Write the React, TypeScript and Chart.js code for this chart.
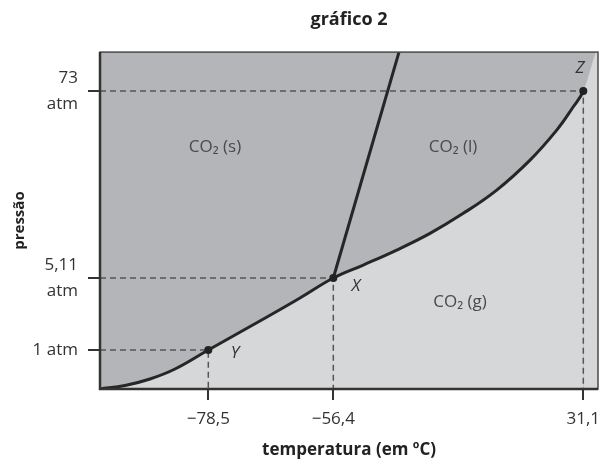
import { useEffect, useRef } from 'react';
import { Chart, registerables } from 'chart.js';

Chart.register(...registerables);

// ---- data (diagram units: 0..100 on both axes, schematic phase diagram) ----
const tempTickLabels = ['−78,5', '−56,4', '31,1'];
const tempTickPos = [21.75, 46.85, 97.05];
const pressureTickLabels = [['1 atm'], ['5,11', 'atm'], ['73', 'atm']];
const pressureTickPos = [11.57, 32.94, 88.43];

// sublimation curve (origin -> Y -> X) followed by vaporization curve (X -> Z)
const curveX = [0, 5.02, 10.04, 15.06, 21.75, 33.53, 40.16, 46.85, 52.87, 59.58, 66.27, 72.95, 79.66, 86.35, 91.71, 95.04, 97.05];
const curveY = [0, 1.04, 2.97, 5.93, 11.57, 21.36, 27.0, 32.94, 36.8, 41.25, 46.2, 52.14, 59.05, 67.95, 76.85, 83.77, 88.43];
// boundary of the gas region above the critical point (no line drawn)
const beyondX = [99.6, 100];
const beyondY = [100, 100];
// fusion line (X -> top)
const fusionX = [46.85, 60.04];
const fusionY = [32.94, 100];
// named points
const pointNames = ['Y', 'X', 'Z'];
const pointX = [21.75, 46.85, 97.05];
const pointY = [11.57, 32.94, 88.43];
// phase labels
const phaseLabels = ['CO₂ (s)', 'CO₂ (l)', 'CO₂ (g)'];

// ---- layout of annotations (diagram units) ----
const phaseLabelPos = [
  [23.1, 71.8],
  [70.9, 71.8],
  [72.3, 25.8],
];
const pointLabelPos = [
  [27.1, 10.7],
  [51.4, 30.6],
  [96.4, 95.3],
];

const DARK = '#b4b5b8';
const LIGHT = '#d6d7d9';
const LINE = '#262626';
const FONT = "'Open Sans', 'DejaVu Sans', sans-serif";

export default function App() {
  const ref = useRef<HTMLCanvasElement | null>(null);

  useEffect(() => {
    if (!ref.current) return;
    const zIndex = curveX.length - 1;
    const boundary = [
      ...curveX.map((x, i) => ({ x, y: curveY[i] })),
      ...beyondX.map((x, i) => ({ x, y: beyondY[i] })),
    ];

    const dashed = pointX.map((px, i) => ({
      type: 'line' as const,
      data: [
        { x: 0, y: pointY[i] },
        { x: px, y: pointY[i] },
        { x: px, y: 0 },
      ],
      borderColor: '#555',
      borderWidth: 1.5,
      borderDash: [6, 4],
      pointRadius: 0,
      fill: false,
      order: 2,
    }));

    const overlay = {
      id: 'overlay',
      beforeDraw(chart: any) {
        const { ctx, chartArea: a } = chart;
        ctx.save();
        ctx.fillStyle = DARK;
        ctx.fillRect(a.left, a.top, a.right - a.left, a.bottom - a.top);
        ctx.restore();
      },
      afterDatasetsDraw(chart: any) {
        const { ctx, chartArea: a, scales } = chart;
        const sx = scales.x;
        const sy = scales.y;
        ctx.save();
        ctx.strokeStyle = '#4a4a4a';
        ctx.lineWidth = 1.5;
        ctx.strokeRect(a.left, a.top, a.right - a.left, a.bottom - a.top);
        ctx.strokeStyle = '#333';
        ctx.lineWidth = 2.5;
        ctx.beginPath();
        ctx.moveTo(a.left, a.top);
        ctx.lineTo(a.left, a.bottom);
        ctx.lineTo(a.right, a.bottom);
        ctx.stroke();

        ctx.textAlign = 'center';
        ctx.textBaseline = 'middle';
        ctx.fillStyle = '#4a4a4a';
        ctx.font = `17px ${FONT}`;
        phaseLabels.forEach((t, i) => {
          ctx.fillText(t, sx.getPixelForValue(phaseLabelPos[i][0]), sy.getPixelForValue(phaseLabelPos[i][1]));
        });
        ctx.fillStyle = '#333';
        ctx.font = `italic 17px ${FONT}`;
        pointNames.forEach((t, i) => {
          ctx.fillText(t, sx.getPixelForValue(pointLabelPos[i][0]), sy.getPixelForValue(pointLabelPos[i][1]));
        });
        ctx.restore();
      },
    };

    const chart = new Chart(ref.current, {
      type: 'line',
      data: {
        datasets: [
          {
            data: pointX.map((x, i) => ({ x, y: pointY[i] })),
            showLine: false,
            pointRadius: 4,
            pointBackgroundColor: '#222',
            pointBorderWidth: 0,
            order: 0,
          },
          {
            data: fusionX.map((x, i) => ({ x, y: fusionY[i] })),
            borderColor: LINE,
            borderWidth: 3,
            pointRadius: 0,
            fill: false,
            order: 1,
          },
          {
            data: boundary,
            borderColor: LINE,
            borderWidth: 3,
            backgroundColor: LIGHT,
            pointRadius: 0,
            fill: 'origin',
            tension: 0.4,
            segment: {
              borderColor: (c: any) => (c.p0DataIndex >= zIndex ? 'rgba(0,0,0,0)' : LINE),
            },
            order: 3,
          },
          ...dashed,
        ] as any,
      },
      options: {
        animation: false,
        responsive: false,
        devicePixelRatio: 1,
        layout: { padding: { left: 0, right: 5, top: 0, bottom: 0 } },
        plugins: {
          legend: { display: false },
          tooltip: { enabled: false },
          title: {
            display: true,
            text: 'gráfico 2',
            fullSize: false,
            color: '#222',
            font: { family: FONT, size: 18, weight: 'bold', lineHeight: 1.2 },
            padding: { top: 9, bottom: 21.5 },
          },
        },
        scales: {
          x: {
            type: 'linear',
            min: 0,
            max: 100,
            afterBuildTicks: (s: any) => {
              s.ticks = tempTickPos.map((v) => ({ value: v }));
            },
            afterFit: (s: any) => {
              s.height = 73;
              s.paddingLeft = 0;
              s.paddingRight = 0;
            },
            ticks: {
              autoSkip: false,
              maxRotation: 0,
              padding: 9,
              color: '#333',
              font: { family: FONT, size: 17 },
              callback: (_v: any, i: number) => tempTickLabels[i],
            },
            grid: { drawOnChartArea: false, drawTicks: true, tickLength: 11, color: '#333', lineWidth: 2 },
            border: { display: false },
            title: {
              display: true,
              text: 'temperatura (em ºC)',
              color: '#222',
              font: { family: FONT, size: 17, weight: 'bold', lineHeight: 1.2 },
              padding: { top: 2, bottom: 2 },
            },
          },
          y: {
            type: 'linear',
            min: 0,
            max: 100,
            afterBuildTicks: (s: any) => {
              s.ticks = pressureTickPos.map((v) => ({ value: v }));
            },
            afterFit: (s: any) => {
              s.width = 100;
              s.paddingTop = 0;
              s.paddingBottom = 0;
            },
            ticks: {
              autoSkip: false,
              padding: 10,
              color: '#333',
              font: { family: FONT, size: 17, lineHeight: 1.55 },
              callback: (_v: any, i: number) => pressureTickLabels[i],
            },
            grid: { drawOnChartArea: false, drawTicks: true, tickLength: 12, color: '#333', lineWidth: 2 },
            border: { display: false },
            title: {
              display: true,
              text: 'pressão',
              color: '#222',
              font: { family: FONT, size: 15, weight: 'bold', lineHeight: 1.2 },
              padding: { top: 11, bottom: 4 },
            },
          },
        },
      } as any,
      plugins: [overlay],
    });
    return () => chart.destroy();
  }, []);

  return (
    <div style={{ position: 'absolute', left: 0, top: 0, width: 603, height: 462 }}>
      <canvas ref={ref} width={603} height={462} style={{ display: 'block' }} />
    </div>
  );
}
